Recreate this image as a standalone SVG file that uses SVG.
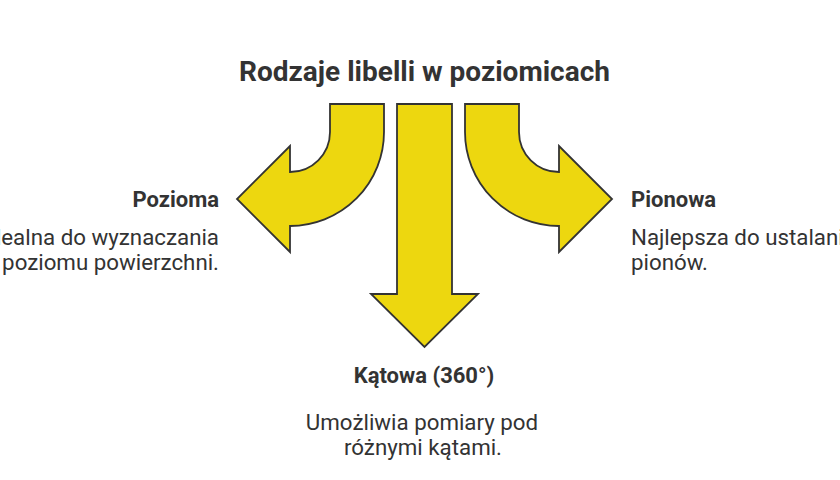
<svg xmlns="http://www.w3.org/2000/svg" width="840" height="480" viewBox="0 0 840 480">
<style>
.arrow{fill:#EDD70F;stroke:#333333;stroke-width:1.8;stroke-linejoin:miter}
.title{font-family:Roboto,"Liberation Sans",sans-serif;font-weight:bold;font-size:28px;fill:#333333}
.head{font-family:Roboto,"Liberation Sans",sans-serif;font-weight:bold;font-size:22px;fill:#333333}
.desc{font-family:Roboto,"Liberation Sans",sans-serif;font-size:22.3px;fill:#333333}
</style>
<rect width="840" height="480" fill="#ffffff"/>
<g id="title"><text class="title" x="424.5" y="81" text-anchor="middle">Rodzaje libelli w poziomicach</text></g>
<g id="connectors">
<path id="arrow-left" class="arrow" d="M330,104 H384 V132 A94,94 0 0 1 290,226 V252 L237,199 L290,146 V172 A40,40 0 0 0 330,132 Z"/>
<path id="arrow-down" class="arrow" d="M397,104 H452 V294 H478 L424.5,347 L371,294 H397 Z"/>
<path id="arrow-right" class="arrow" d="M519,104 H465 V132 A94,94 0 0 0 559,226 V252 L612,199 L559,146 V172 A40,40 0 0 1 519,132 Z"/>
</g>
<g id="node-pozioma">
<text class="head" x="219" y="207" text-anchor="end">Pozioma</text>
<text class="desc" x="219" y="245" text-anchor="end">Idealna do wyznaczania</text>
<text class="desc" x="219" y="270" text-anchor="end">poziomu powierzchni.</text>
</g>
<g id="node-pionowa">
<text class="head" x="631" y="207">Pionowa</text>
<text class="desc" x="631" y="245">Najlepsza do ustalania</text>
<text class="desc" x="631" y="270">pionów.</text>
</g>
<g id="node-katowa">
<text class="head" x="424" y="383" text-anchor="middle">Kątowa (360°)</text>
<text class="desc" x="422" y="430" text-anchor="middle">Umożliwia pomiary pod</text>
<text class="desc" x="423" y="455" text-anchor="middle">różnymi kątami.</text>
</g>
</svg>
